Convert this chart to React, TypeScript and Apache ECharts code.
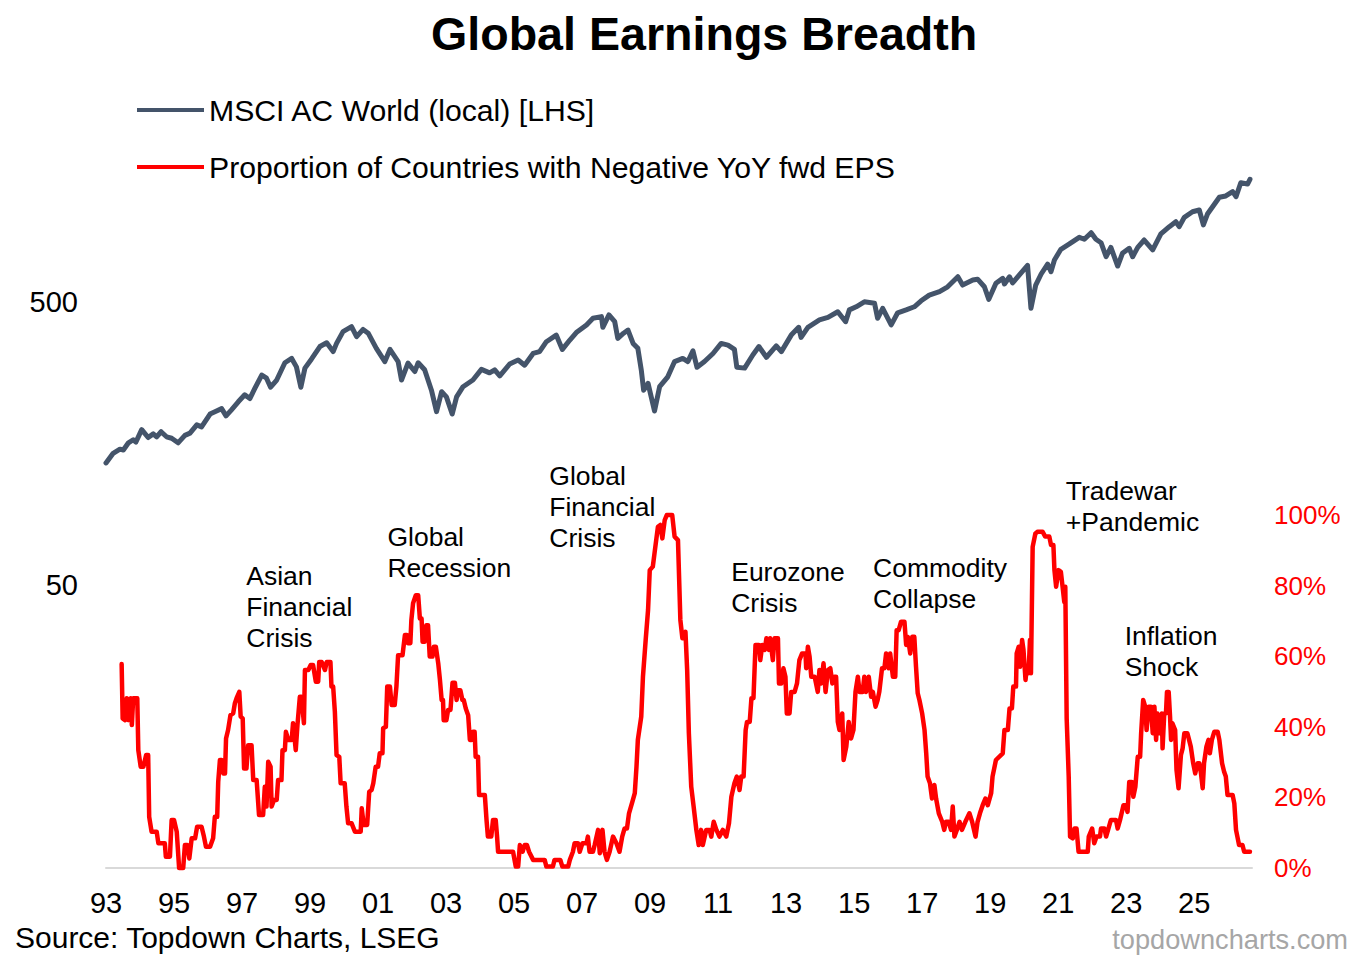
import React, { useEffect, useRef } from "react";
import * as echarts from "echarts";

const FONT = "'Liberation Sans', Arial, Helvetica, sans-serif";

const TITLE = "Global Earnings Breadth";
const SERIES_MSCI = "MSCI AC World (local) [LHS]";
const SERIES_NEG = "Proportion of Countries with Negative YoY fwd EPS";
const SOURCE = "Source: Topdown Charts, LSEG";
const WATERMARK = "topdowncharts.com";

// Left (log) axis labelled values
const leftAxisLabels = [500, 50];

// MSCI AC World (local) index level, [decimal year, level]
const msci: [number, number][] = [
  [1993.0, 135], [1993.21, 146], [1993.41, 151], [1993.51, 150], [1993.66, 159], [1993.8, 163], [1993.88, 160],
  [1994.05, 177], [1994.24, 166], [1994.39, 171], [1994.49, 167], [1994.62, 174], [1994.78, 167], [1994.93, 165],
  [1995.12, 159], [1995.32, 169], [1995.47, 172], [1995.67, 184], [1995.81, 181], [1996.06, 201], [1996.25, 206],
  [1996.4, 210], [1996.53, 198], [1996.69, 208], [1996.89, 222], [1997.08, 235], [1997.23, 228], [1997.38, 248],
  [1997.58, 276], [1997.72, 269], [1997.84, 250], [1998.02, 265], [1998.26, 305], [1998.46, 316], [1998.6, 295],
  [1998.73, 250], [1998.85, 292], [1999.04, 314], [1999.29, 348], [1999.49, 359], [1999.68, 334], [1999.78, 357],
  [1999.97, 393], [2000.22, 409], [2000.37, 377], [2000.56, 400], [2000.71, 388], [2000.95, 343], [2001.2, 308],
  [2001.35, 340], [2001.59, 308], [2001.69, 265], [2001.88, 304], [2002.08, 284], [2002.18, 305], [2002.37, 288],
  [2002.57, 244], [2002.72, 205], [2002.87, 241], [2003.01, 231], [2003.18, 201], [2003.31, 231], [2003.5, 251],
  [2003.79, 265], [2004.04, 289], [2004.28, 281], [2004.43, 288], [2004.58, 274], [2004.87, 302], [2005.12, 312],
  [2005.31, 299], [2005.56, 329], [2005.75, 334], [2005.95, 362], [2006.24, 382], [2006.42, 340], [2006.64, 367],
  [2006.83, 390], [2007.13, 415], [2007.32, 438], [2007.57, 444], [2007.61, 407], [2007.79, 450], [2007.96, 426],
  [2008.05, 372], [2008.22, 388], [2008.35, 398], [2008.5, 357], [2008.64, 343], [2008.74, 288], [2008.81, 244],
  [2008.94, 258], [2009.13, 206], [2009.28, 251], [2009.52, 272], [2009.72, 308], [2009.96, 316], [2010.11, 308],
  [2010.26, 336], [2010.38, 294], [2010.6, 308], [2010.85, 329], [2011.09, 357], [2011.29, 352], [2011.48, 340],
  [2011.55, 294], [2011.78, 292], [2012.02, 325], [2012.2, 348], [2012.42, 319], [2012.71, 350], [2012.86, 334],
  [2013.15, 382], [2013.37, 407], [2013.44, 375], [2013.64, 407], [2013.98, 432], [2014.23, 441], [2014.52, 462],
  [2014.75, 426], [2014.86, 469], [2015.06, 481], [2015.3, 501], [2015.6, 495], [2015.69, 438], [2015.84, 475],
  [2016.09, 415], [2016.28, 458], [2016.53, 469], [2016.77, 481], [2016.97, 505], [2017.21, 529], [2017.51, 544],
  [2017.75, 566], [2018.05, 614], [2018.19, 574], [2018.49, 598], [2018.63, 602], [2018.83, 566], [2018.96, 511],
  [2019.17, 582], [2019.37, 606], [2019.42, 579], [2019.57, 614], [2019.66, 584], [2019.86, 623], [2020.1, 673],
  [2020.2, 475], [2020.34, 574], [2020.5, 628], [2020.69, 681], [2020.79, 640], [2020.89, 704], [2021.08, 768],
  [2021.33, 802], [2021.62, 846], [2021.77, 833], [2021.97, 879], [2022.11, 833], [2022.26, 810], [2022.41, 723],
  [2022.55, 780], [2022.75, 670], [2022.89, 743], [2023.09, 774], [2023.19, 723], [2023.34, 780], [2023.53, 828],
  [2023.78, 764], [2024.02, 870], [2024.27, 923], [2024.46, 961], [2024.56, 923], [2024.71, 996], [2024.95, 1042],
  [2025.15, 1057], [2025.27, 936], [2025.39, 1023], [2025.74, 1172], [2025.93, 1185], [2026.13, 1227],
  [2026.23, 1178], [2026.37, 1320], [2026.57, 1306], [2026.64, 1357],
];

// Proportion of countries with negative YoY forward EPS (%), [decimal year, %]
const negEps: [number, number][] = [
  [1993.46, 57.8], [1993.49, 42.4], [1993.56, 41.9], [1993.61, 48.1], [1993.66, 41.9], [1993.73, 48.1], [1993.76, 40.5],
  [1993.8, 48.1], [1993.92, 48.1], [1993.95, 33.4], [1994.02, 28.7], [1994.1, 28.7], [1994.18, 32.0], [1994.24, 32.0],
  [1994.27, 14.5], [1994.34, 10.3], [1994.49, 10.3], [1994.54, 7.0], [1994.73, 7.0], [1994.76, 3.2], [1994.88, 3.2],
  [1994.93, 13.6], [1995.0, 13.6], [1995.08, 10.3], [1995.15, 0], [1995.27, 0], [1995.32, 6.5], [1995.39, 6.5],
  [1995.45, 2.7], [1995.52, 8.4], [1995.62, 8.4], [1995.68, 11.7], [1995.81, 11.7], [1995.88, 8.9], [1995.94, 6.0],
  [1996.06, 6.0], [1996.15, 8.4], [1996.2, 14.5], [1996.27, 14.5], [1996.3, 24.4], [1996.35, 30.6], [1996.4, 30.6],
  [1996.45, 26.8], [1996.5, 26.8], [1996.53, 36.7], [1996.59, 39.1], [1996.66, 43.3], [1996.74, 43.8], [1996.79, 46.7],
  [1996.84, 48.1], [1996.92, 49.9], [1996.96, 42.9], [1997.02, 42.4], [1997.06, 28.2], [1997.13, 28.2], [1997.18, 34.8],
  [1997.28, 34.8], [1997.33, 24.9], [1997.43, 24.9], [1997.5, 15.0], [1997.62, 15.0], [1997.67, 23.0], [1997.72, 17.4],
  [1997.77, 30.1], [1997.84, 28.7], [1997.87, 17.4], [1997.94, 19.3], [1998.02, 19.3], [1998.06, 24.9], [1998.16, 24.9],
  [1998.19, 33.4], [1998.26, 33.4], [1998.29, 38.6], [1998.36, 36.3], [1998.46, 36.3], [1998.5, 41.0], [1998.58, 33.4],
  [1998.63, 40.5], [1998.7, 48.5], [1998.75, 48.5], [1998.82, 41.0], [1998.85, 56.1], [1998.95, 56.1], [1999.02, 57.5],
  [1999.09, 57.5], [1999.17, 52.8], [1999.24, 52.8], [1999.27, 58.4], [1999.34, 58.4], [1999.44, 56.1], [1999.49, 58.4],
  [1999.6, 58.4], [1999.63, 51.4], [1999.68, 51.4], [1999.73, 44.3], [1999.78, 32.0], [1999.86, 31.5], [1999.9, 24.0],
  [2000.02, 24.0], [2000.07, 17.4], [2000.12, 12.7], [2000.22, 12.7], [2000.32, 10.3], [2000.49, 10.3], [2000.52, 16.9],
  [2000.58, 12.2], [2000.68, 12.2], [2000.74, 21.6], [2000.81, 22.1], [2000.86, 24.0], [2000.93, 28.7], [2001.0, 28.7],
  [2001.05, 32.5], [2001.13, 32.5], [2001.15, 39.6], [2001.23, 40.0], [2001.27, 51.4], [2001.35, 51.4], [2001.4, 46.2],
  [2001.49, 46.2], [2001.54, 51.4], [2001.59, 60.3], [2001.72, 60.3], [2001.79, 66.0], [2001.85, 66.0], [2001.88, 63.7],
  [2001.95, 63.7], [2001.98, 70.3], [2002.03, 75.0], [2002.11, 77.3], [2002.18, 77.3], [2002.23, 70.7], [2002.28, 70.7],
  [2002.31, 64.1], [2002.37, 64.1], [2002.42, 68.8], [2002.47, 68.8], [2002.52, 59.9], [2002.6, 59.9], [2002.64, 62.7],
  [2002.7, 62.7], [2002.77, 58.0], [2002.82, 53.3], [2002.87, 47.6], [2002.91, 47.6], [2002.93, 41.9], [2003.01, 41.9],
  [2003.06, 44.8], [2003.13, 44.8], [2003.19, 52.5], [2003.26, 52.5], [2003.31, 47.6], [2003.35, 50.4], [2003.42, 50.4],
  [2003.48, 47.6], [2003.52, 47.6], [2003.58, 45.2], [2003.65, 43.3], [2003.7, 36.3], [2003.75, 36.3], [2003.79, 38.6],
  [2003.84, 38.6], [2003.87, 31.5], [2003.94, 31.5], [2003.97, 20.7], [2004.14, 20.7], [2004.19, 13.6], [2004.23, 8.9],
  [2004.33, 8.9], [2004.38, 13.6], [2004.46, 13.6], [2004.5, 8.9], [2004.53, 4.6], [2004.97, 4.6], [2005.05, 0.4],
  [2005.12, 0.4], [2005.17, 6.5], [2005.25, 4.6], [2005.31, 6.5], [2005.38, 6.5], [2005.44, 4.6], [2005.56, 2.3],
  [2005.9, 2.3], [2005.95, 0.4], [2006.14, 0.4], [2006.19, 2.3], [2006.36, 2.3], [2006.42, 0.4], [2006.59, 0.4],
  [2006.64, 2.3], [2006.73, 4.6], [2006.78, 7.0], [2006.88, 7.0], [2006.93, 4.6], [2007.01, 7.0], [2007.13, 7.0],
  [2007.17, 8.9], [2007.22, 4.6], [2007.32, 4.6], [2007.37, 6.5], [2007.47, 10.8], [2007.52, 4.2], [2007.6, 10.8],
  [2007.66, 4.6], [2007.73, 2.3], [2007.81, 4.6], [2007.91, 8.9], [2008.01, 7.0], [2008.1, 4.6], [2008.18, 8.9],
  [2008.25, 11.2], [2008.32, 11.2], [2008.38, 15.5], [2008.48, 18.8], [2008.55, 21.2], [2008.6, 28.7], [2008.64, 36.3],
  [2008.74, 42.9], [2008.79, 54.2], [2008.87, 64.6], [2008.94, 73.1], [2008.99, 84.4], [2009.08, 85.4], [2009.13, 89.2],
  [2009.23, 96.7], [2009.3, 97.2], [2009.36, 93.4], [2009.43, 98.6], [2009.49, 100], [2009.65, 100], [2009.72, 93.9],
  [2009.82, 92.9], [2009.89, 70.3], [2009.95, 65.1], [2010.04, 66.9], [2010.09, 56.1], [2010.14, 38.2], [2010.21, 23.0],
  [2010.28, 17.4], [2010.36, 10.8], [2010.43, 6.5], [2010.5, 10.8], [2010.55, 6.5], [2010.65, 10.8], [2010.75, 10.8],
  [2010.8, 8.9], [2010.87, 13.1], [2010.95, 10.8], [2011.04, 8.9], [2011.14, 10.8], [2011.24, 8.9], [2011.32, 12.7],
  [2011.39, 20.2], [2011.48, 24.0], [2011.55, 25.9], [2011.63, 22.1], [2011.68, 25.9], [2011.75, 25.9], [2011.81, 39.1],
  [2011.85, 41.4], [2011.93, 41.4], [2011.98, 48.1], [2012.04, 48.1], [2012.1, 63.2], [2012.2, 63.2], [2012.24, 58.9],
  [2012.3, 63.2], [2012.37, 61.8], [2012.42, 65.1], [2012.49, 61.8], [2012.53, 65.1], [2012.61, 58.9], [2012.66, 65.1],
  [2012.76, 65.1], [2012.79, 52.3], [2012.86, 52.3], [2012.92, 56.6], [2012.98, 54.2], [2013.02, 43.8], [2013.1, 43.8],
  [2013.15, 49.9], [2013.25, 49.9], [2013.32, 52.3], [2013.39, 58.9], [2013.47, 60.8], [2013.57, 60.8], [2013.59, 56.6],
  [2013.64, 62.7], [2013.69, 59.9], [2013.74, 54.2], [2013.84, 54.2], [2013.93, 49.9], [2013.98, 56.1], [2014.03, 52.3],
  [2014.1, 58.0], [2014.16, 49.9], [2014.23, 56.1], [2014.3, 56.6], [2014.36, 52.3], [2014.42, 54.2], [2014.47, 54.2],
  [2014.52, 41.4], [2014.57, 39.1], [2014.65, 43.8], [2014.69, 30.6], [2014.77, 34.4], [2014.84, 41.4], [2014.91, 36.7],
  [2014.98, 39.1], [2015.04, 49.9], [2015.11, 54.2], [2015.16, 49.9], [2015.25, 49.9], [2015.3, 54.2], [2015.35, 49.9],
  [2015.43, 54.2], [2015.5, 48.5], [2015.55, 49.9], [2015.63, 45.7], [2015.69, 47.6], [2015.74, 49.9], [2015.82, 56.6],
  [2015.89, 56.6], [2015.94, 60.8], [2016.02, 56.6], [2016.06, 60.8], [2016.14, 54.2], [2016.21, 54.2], [2016.25, 67.4],
  [2016.31, 67.4], [2016.38, 69.8], [2016.48, 69.8], [2016.53, 63.2], [2016.58, 65.5], [2016.65, 60.8], [2016.71, 65.5],
  [2016.77, 65.5], [2016.82, 57.0], [2016.87, 49.5], [2016.92, 47.6], [2017.0, 43.8], [2017.07, 39.1], [2017.12, 32.5],
  [2017.16, 25.9], [2017.23, 24.0], [2017.29, 19.7], [2017.36, 23.5], [2017.41, 19.7], [2017.49, 15.5], [2017.59, 13.1],
  [2017.65, 10.8], [2017.7, 13.1], [2017.78, 13.1], [2017.85, 10.8], [2017.9, 17.4], [2017.95, 8.9], [2018.02, 10.8],
  [2018.1, 13.1], [2018.17, 10.8], [2018.27, 13.1], [2018.39, 15.5], [2018.47, 13.1], [2018.57, 8.9], [2018.63, 13.1],
  [2018.7, 15.5], [2018.78, 17.8], [2018.86, 19.7], [2018.93, 17.8], [2019.03, 21.2], [2019.07, 25.9], [2019.17, 30.6],
  [2019.37, 32.5], [2019.42, 39.1], [2019.52, 39.1], [2019.57, 45.2], [2019.64, 45.2], [2019.68, 51.4], [2019.76, 51.4],
  [2019.78, 60.8], [2019.84, 62.7], [2019.88, 57.0], [2019.94, 64.6], [2019.98, 61.8], [2020.04, 53.3], [2020.07, 56.1],
  [2020.13, 55.2], [2020.17, 64.6], [2020.2, 55.2], [2020.25, 91.0], [2020.33, 94.8], [2020.4, 95.3], [2020.54, 95.3],
  [2020.62, 93.9], [2020.74, 93.9], [2020.79, 91.5], [2020.86, 91.5], [2020.89, 84.4], [2020.94, 79.7], [2021.01, 84.4],
  [2021.08, 83.9], [2021.13, 79.7], [2021.18, 75.4], [2021.21, 79.7], [2021.25, 42.4], [2021.31, 25.9], [2021.35, 8.9],
  [2021.43, 8.4], [2021.48, 11.2], [2021.54, 11.2], [2021.6, 4.6], [2021.87, 4.6], [2021.9, 8.9], [2022.0, 11.2],
  [2022.06, 7.0], [2022.13, 8.9], [2022.23, 8.9], [2022.26, 11.2], [2022.36, 11.2], [2022.41, 8.9], [2022.48, 11.2],
  [2022.55, 13.6], [2022.7, 13.6], [2022.75, 11.2], [2022.82, 13.6], [2022.92, 17.8], [2022.99, 17.8], [2023.04, 15.9],
  [2023.09, 24.4], [2023.17, 24.4], [2023.21, 20.2], [2023.27, 23.0], [2023.34, 31.5], [2023.41, 31.5], [2023.44, 38.2],
  [2023.5, 47.6], [2023.56, 45.7], [2023.6, 39.1], [2023.66, 45.7], [2023.73, 45.7], [2023.78, 38.2], [2023.83, 45.7],
  [2023.88, 36.3], [2023.92, 43.8], [2023.99, 38.2], [2024.05, 43.8], [2024.07, 33.9], [2024.12, 43.8], [2024.17, 43.8],
  [2024.2, 49.9], [2024.25, 49.9], [2024.29, 42.9], [2024.32, 36.3], [2024.36, 41.0], [2024.44, 39.1], [2024.48, 27.8],
  [2024.54, 22.6], [2024.61, 32.0], [2024.66, 33.9], [2024.71, 38.2], [2024.8, 38.2], [2024.85, 36.3], [2024.9, 34.4],
  [2024.97, 29.7], [2025.03, 26.8], [2025.1, 29.7], [2025.15, 29.7], [2025.2, 26.8], [2025.25, 22.6], [2025.29, 29.7],
  [2025.36, 34.4], [2025.42, 36.3], [2025.46, 32.5], [2025.52, 36.3], [2025.59, 38.6], [2025.69, 38.6], [2025.74, 36.3],
  [2025.82, 29.7], [2025.88, 27.3], [2025.93, 25.9], [2025.98, 20.7], [2026.13, 20.7], [2026.18, 18.3], [2026.23, 10.8],
  [2026.27, 8.9], [2026.32, 6.5], [2026.42, 6.5], [2026.47, 4.6], [2026.64, 4.6],
];

// Event annotations: text, anchored (top-left) at [decimal year, % on right axis]
const annotationTexts = [
  "Asian\nFinancial\nCrisis",
  "Global\nRecession",
  "Global\nFinancial\nCrisis",
  "Eurozone\nCrisis",
  "Commodity\nCollapse",
  "Tradewar\n+Pandemic",
  "Inflation\nShock",
];
const annotationAnchors: [number, number][] = [
  [1997.14, 87.1],
  [2001.29, 98.0],
  [2006.05, 115.2],
  [2011.4, 88.2],
  [2015.57, 89.2],
  [2021.24, 111.2],
  [2022.97, 70.1],
];

export default function App() {
  const ref = useRef<HTMLDivElement>(null);

  useEffect(() => {
    if (!ref.current) return;
    const chart = echarts.init(ref.current, null, { renderer: "svg" });

    const option: any = {
      animation: false,
      backgroundColor: "#ffffff",
      textStyle: { fontFamily: FONT },
      title: {
        text: TITLE,
        left: 431,
        top: 10,
        padding: 0,
        textStyle: { fontSize: 46.6, fontWeight: "bold", color: "#000000", fontFamily: FONT },
      },
      legend: {
        orient: "vertical",
        left: 137,
        top: 95,
        itemGap: 27,
        itemWidth: 67,
        itemHeight: 4,
        icon: "rect",
        padding: 0,
        selectedMode: false,
        textStyle: { fontSize: 30.2, color: "#000000", fontFamily: FONT, padding: [0, 0, 0, 0] },
        data: [SERIES_MSCI, SERIES_NEG],
      },
      grid: { left: 106, right: 110, top: 21, bottom: 92, containLabel: false },
      xAxis: {
        type: "value",
        min: 1993,
        max: 2026.7,
        interval: 1,
        splitLine: { show: false },
        axisTick: { show: false },
        axisLine: { show: true, onZero: false, lineStyle: { color: "#d9d9d9", width: 2 } },
        axisLabel: {
          show: true,
          margin: 20,
          fontSize: 29,
          color: "#000000",
          fontFamily: FONT,
          showMaxLabel: false,
          formatter: (v: number) =>
            Number.isInteger(v) && Math.abs(v % 2) === 1 ? String(v % 100).padStart(2, "0") : "",
        },
      },
      yAxis: [
        {
          type: "log",
          logBase: 10,
          min: 5,
          max: 4920,
          position: "left",
          splitLine: { show: false },
          axisTick: { show: false },
          axisLine: { show: false },
          axisLabel: { show: false },
        },
        {
          type: "value",
          min: 0,
          max: 240,
          interval: 20,
          position: "right",
          splitLine: { show: false },
          axisTick: { show: false },
          axisLine: { show: false },
          axisLabel: {
            show: true,
            margin: 22,
            fontSize: 26,
            color: "#ff0000",
            fontFamily: FONT,
            formatter: (v: number) => (v <= 100 ? `${v}%` : ""),
          },
        },
      ],
      series: [
        {
          name: SERIES_MSCI,
          type: "line",
          xAxisIndex: 0,
          yAxisIndex: 0,
          data: msci,
          showSymbol: false,
          symbol: "none",
          clip: false,
          color: "#44546a",
          lineStyle: { color: "#44546a", width: 5, join: "round", cap: "round" },
          z: 3,
          markLine: {
            silent: true,
            symbol: ["none", "none"],
            lineStyle: { color: "rgba(0,0,0,0)", width: 0 },
            label: {
              show: true,
              position: "start",
              distance: 28,
              fontSize: 29,
              color: "#000000",
              fontFamily: FONT,
              formatter: (p: any) => String(p.value),
            },
            data: leftAxisLabels.map((v) => ({ yAxis: v })),
          },
        },
        {
          name: SERIES_NEG,
          type: "line",
          xAxisIndex: 0,
          yAxisIndex: 1,
          data: negEps,
          showSymbol: false,
          symbol: "none",
          clip: false,
          color: "#ff0000",
          lineStyle: { color: "#ff0000", width: 4.5, join: "round", cap: "round" },
          z: 4,
          markPoint: {
            silent: true,
            symbol: "circle",
            symbolSize: 1,
            itemStyle: { color: "rgba(0,0,0,0)" },
            label: {
              show: true,
              position: [0, 0],
              align: "left",
              verticalAlign: "top",
              fontSize: 26.5,
              lineHeight: 31,
              color: "#000000",
              fontFamily: FONT,
              formatter: (p: any) => p.name,
            },
            data: annotationTexts.map((t, i) => ({ name: t, coord: annotationAnchors[i] })),
          },
        },
      ],
      graphic: [
        {
          type: "text",
          left: 15,
          top: 922,
          style: { text: SOURCE, fontSize: 30, fontFamily: FONT, fill: "#000000" },
        },
        {
          type: "text",
          right: 14,
          top: 926,
          style: { text: WATERMARK, fontSize: 27.2, fontFamily: FONT, fill: "#a6a6a6" },
        },
      ],
    };

    chart.setOption(option);
    return () => chart.dispose();
  }, []);

  return (
    <div
      ref={ref}
      style={{ position: "fixed", left: 0, top: 0, width: 1362, height: 960, background: "#ffffff" }}
    />
  );
}
